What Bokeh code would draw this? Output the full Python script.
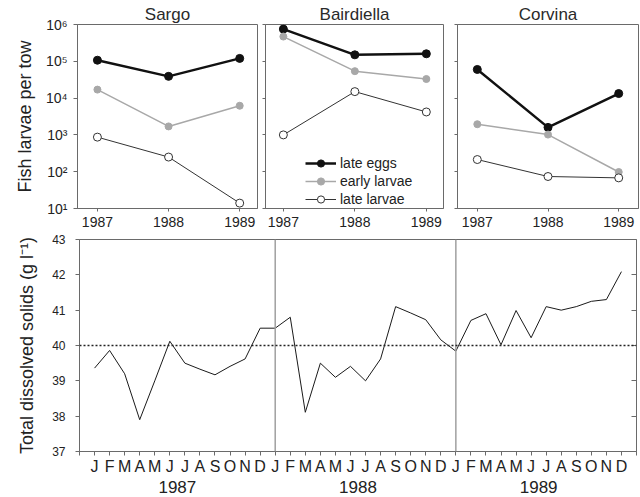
from bokeh.plotting import figure
from bokeh.models import (FixedTicker, LinearAxis, Span, Legend, LegendItem, Range1d)
from bokeh.layouts import column, row
from bokeh.embed import file_html
from bokeh.resources import INLINE

# ---------------- data ----------------
years = [1987, 1988, 1989]
species = ["Sargo", "Bairdiella", "Corvina"]

sargo_late_eggs = [1.07e5, 3.9e4, 1.2e5]
sargo_early_larvae = [1.7e4, 1.7e3, 6.2e3]
sargo_late_larvae = [870, 250, 14]

bairdiella_late_eggs = [7.5e5, 1.5e5, 1.6e5]
bairdiella_early_larvae = [4.7e5, 5.4e4, 3.3e4]
bairdiella_late_larvae = [1.0e3, 1.5e4, 4.2e3]

corvina_late_eggs = [6.0e4, 1.6e3, 1.33e4]
corvina_early_larvae = [1.95e3, 1.02e3, 98]
corvina_late_larvae = [214, 74, 68]

series_names = ["late eggs", "early larvae", "late larvae"]
log_ticks = [10, 100, 1000, 10000, 100000, 1000000]
log_tick_labels = ["10\u00b9", "10\u00b2", "10\u00b3", "10\u2074", "10\u2075", "10\u2076"]

month_letters = ["J", "F", "M", "A", "M", "J", "J", "A", "S", "O", "N", "D"]
tds_1987 = [39.36, 39.86, 39.2, 37.9, 39.0, 40.12, 39.5, 39.33, 39.17, 39.41, 39.62, 40.49]
tds_1988 = [40.49, 40.8, 38.11, 39.5, 39.1, 39.41, 39.0, 39.62, 41.1, 40.92, 40.73, 40.16]
tds_1989 = [39.84, 40.71, 40.9, 40.02, 40.99, 40.22, 41.1, 41.0, 41.1, 41.25, 41.3, 42.09]
tds_reference = 40
tds_ticks = [37, 38, 39, 40, 41, 42, 43]

FONT = "Liberation Sans"
TXT = "#222222"
FRAME = "#6a6a6a"


def style_common(p):
    p.background_fill_color = "white"
    p.border_fill_color = "white"
    p.outline_line_color = FRAME
    p.outline_line_width = 1
    p.grid.grid_line_color = None
    for ax in p.axis:
        ax.axis_line_color = FRAME
        ax.major_tick_line_color = FRAME
        ax.minor_tick_line_color = None
        ax.major_label_text_font = FONT
        ax.major_label_text_color = TXT
        ax.axis_label_text_font = FONT
        ax.axis_label_text_color = TXT
        ax.axis_label_text_font_style = "normal"


def make_panel(name, eggs, early, late, width, left, right, xr, show_labels, title_dx):
    p = figure(width=width, height=232, x_range=Range1d(*xr), y_range=Range1d(10, 1e6),
               y_axis_type="log", output_backend="svg", toolbar_location=None,
               min_border_left=left, min_border_right=right,
               min_border_top=24, min_border_bottom=24, title=name)
    style_common(p)
    p.title.align = "center"
    p.title.text_font = FONT
    p.title.text_font_size = "17px"
    p.title.text_font_style = "normal"
    p.title.text_color = "#2a2a2a"
    p.title.standoff = 1
    p.title.offset = title_dx

    p.xaxis.ticker = FixedTicker(ticks=years)
    p.xaxis.major_label_overrides = {y: str(y) for y in years}
    p.xaxis.major_tick_in = 0
    p.xaxis.major_tick_out = 3
    p.xaxis.major_label_standoff = 5
    p.xaxis.major_label_text_font_size = "14px"
    p.yaxis.ticker = FixedTicker(ticks=log_ticks)
    p.yaxis.major_tick_in = 0
    p.yaxis.major_tick_out = 4
    if show_labels:
        p.yaxis.major_label_overrides = dict(zip(log_ticks, log_tick_labels))
        p.yaxis.major_label_text_font_size = "14px"
        p.yaxis.major_label_standoff = 6
        p.yaxis.axis_label = "Fish larvae per tow"
        p.yaxis.axis_label_text_font_size = "18px"
        p.yaxis.axis_label_standoff = 8
    else:
        p.yaxis.major_tick_out = 3
        p.yaxis.major_label_overrides = {t: "" for t in log_ticks}
        p.yaxis.major_label_text_font_size = "0px"
        p.yaxis.major_label_standoff = 0

    r1l = p.line(years, eggs, line_color="#111111", line_width=2.5)
    r1s = p.scatter(years, eggs, size=8, fill_color="#111111", line_color="#111111")
    r2l = p.line(years, early, line_color="#a8a8a8", line_width=1.5)
    r2s = p.scatter(years, early, size=7, fill_color="#a8a8a8", line_color="#a8a8a8")
    r3l = p.line(years, late, line_color="#333333", line_width=1)
    r3s = p.scatter(years, late, size=8, fill_color="white", line_color="#333333", line_width=1)
    return p, [(r1l, r1s), (r2l, r2s), (r3l, r3s)]


p1, _ = make_panel(species[0], sargo_late_eggs, sargo_early_larvae, sargo_late_larvae,
                   261, 77, 4, (1986.72, 1989.25), True, -3)
p2, rends = make_panel(species[1], bairdiella_late_eggs, bairdiella_early_larvae, bairdiella_late_larvae,
                       189, 4, 7, (1986.75, 1989.24), False, 0)
p3, _ = make_panel(species[2], corvina_late_eggs, corvina_early_larvae, corvina_late_larvae,
                   190, 7, 2, (1986.72, 1989.28), False, -9)

legend = Legend(items=[LegendItem(label=n, renderers=list(r)) for n, r in zip(series_names, rends)],
                location=(40, 0), padding=0, margin=0, spacing=0,
                border_line_color=None, background_fill_alpha=0,
                glyph_width=31, glyph_height=18, label_height=18, label_standoff=4,
                label_text_font=FONT, label_text_font_size="14px", label_text_color=TXT)
p2.add_layout(legend)

# ---------------- bottom panel ----------------
tds = tds_1987 + tds_1988 + tds_1989
months = list(range(len(tds)))
month_labels = {i: month_letters[i % 12] for i in months}
year_centers = [12 * i + 5.5 for i in range(len(years))]

p4 = figure(width=640, height=265, x_range=Range1d(-1, len(tds)), y_range=Range1d(37, 43),
            output_backend="svg", toolbar_location=None,
            min_border_left=79, min_border_right=4, min_border_top=7, min_border_bottom=46)
p4.add_layout(LinearAxis(), "right")
p4.add_layout(LinearAxis(), "below")
style_common(p4)

xa = p4.xaxis[0]
xa.ticker = FixedTicker(ticks=months, minor_ticks=[-1, len(tds)])
xa.major_label_overrides = month_labels
xa.major_tick_in = 0
xa.major_tick_out = 4
xa.minor_tick_in = 0
xa.minor_tick_out = 4
xa.minor_tick_line_color = FRAME
xa.major_label_standoff = 2
xa.major_label_text_font_size = "16px"

xy = p4.xaxis[1]
xy.ticker = FixedTicker(ticks=year_centers)
xy.major_label_overrides = {c: str(y) for c, y in zip(year_centers, years)}
xy.axis_line_color = None
xy.major_tick_line_color = None
xy.major_tick_in = 0
xy.major_tick_out = 0
xy.major_label_standoff = 3
xy.major_label_text_font_size = "17px"

ya = p4.yaxis[0]
ya.ticker = FixedTicker(ticks=tds_ticks)
ya.major_tick_in = 0
ya.major_tick_out = 4
ya.major_label_standoff = 10
ya.major_label_text_font_size = "12px"
ya.axis_label = "Total dissolved solids (g l\u207b\u00b9)"
ya.axis_label_text_font_size = "18px"
ya.axis_label_standoff = 12

yr = p4.yaxis[1]
yr.ticker = FixedTicker(ticks=tds_ticks)
yr.major_tick_in = 5
yr.major_tick_out = 0
yr.major_label_overrides = {t: "" for t in tds_ticks}
yr.major_label_text_font_size = "0px"
yr.major_label_standoff = 0
yr.axis_line_color = None

for i in range(1, len(years)):
    p4.add_layout(Span(location=12 * i, dimension="height", line_color="#a0a0a0", line_width=1.5))
p4.add_layout(Span(location=tds_reference, dimension="width", line_color="#222222",
                   line_width=1.5, line_dash="2 2"))

p4.line(months, tds, line_color="#1a1a1a", line_width=1)

layout = column(row(p1, p2, p3, spacing=0), p4, spacing=0)
open("out.html", "w").write(file_html(layout, INLINE))
